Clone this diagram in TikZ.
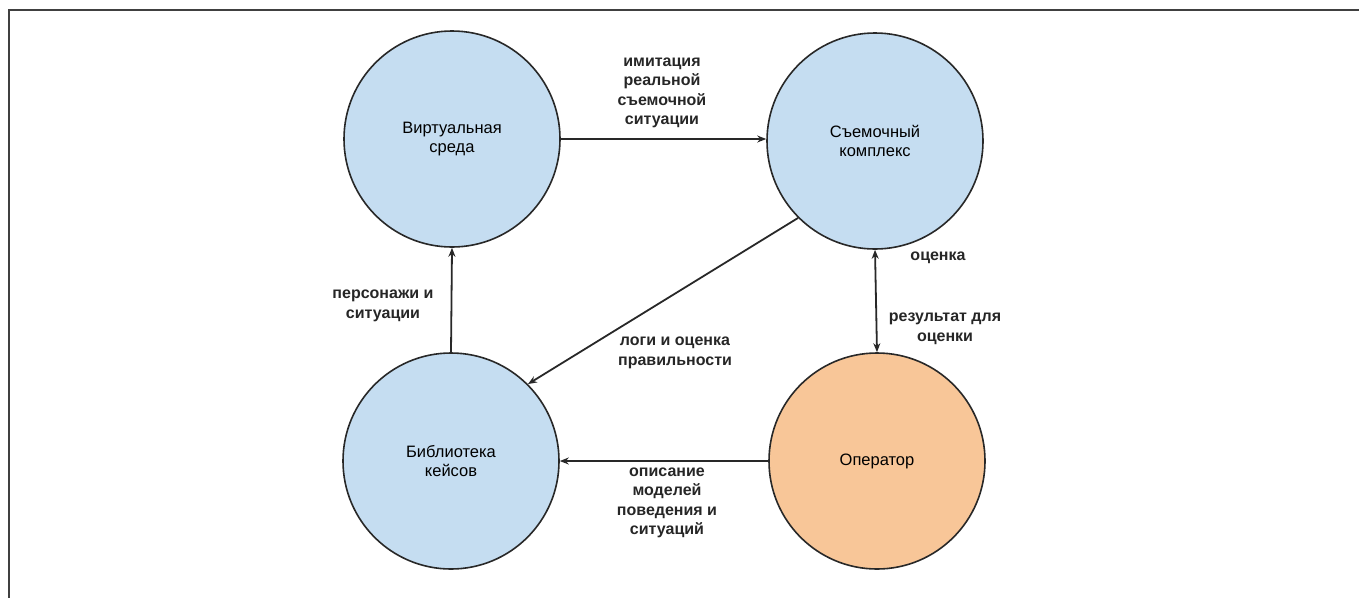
\documentclass[tikz,border=0pt]{standalone}
\usepackage{fontspec}
\setmainfont{Liberation Sans}
\usetikzlibrary{arrows.meta}
\definecolor{cblue}{RGB}{197,221,241}
\definecolor{corange}{RGB}{248,198,152}
\definecolor{cline}{RGB}{40,40,40}
\begin{document}
\begin{tikzpicture}[x=1pt,y=-1pt,
  circ/.style={circle,draw=cline,line width=1.6pt,minimum size=216pt,inner sep=0pt,align=center,
    font=\fontsize{16.5}{18.5}\selectfont},
  lab/.style={align=center,font=\bfseries\fontsize{16}{19.5}\selectfont,text=black!85},
  conn/.style={draw=cline,line width=1.8pt,-{Stealth[length=9pt,width=7pt]}},
  frameline/.style={draw=black!75,line width=1.8pt}]
\useasboundingbox (0,0) rectangle (1359,598);
\coordinate (ftl) at (9,10);
\coordinate (ftr) at (1359,10);
\coordinate (fbl) at (9,598);
\draw[frameline] (ftr) -- (ftl) -- (fbl);

\node[circ,fill=cblue] (virt) at (452,139) {Виртуальная\\среда};
\node[circ,fill=cblue] (sys) at (875,141) {Съемочный\\комплекс};
\node[circ,fill=cblue] (lib) at (451,461) {Библиотека\\кейсов};
\node[circ,fill=corange] (op) at (877,461) {Оператор};

\draw[conn] (virt.east) -- (virt.east -| sys.west);
\draw[conn] (lib.north) -- (virt.south);
\draw[conn] (sys.225) -- (lib.45);
\draw[conn,{Stealth[length=9pt,width=7pt]}-{Stealth[length=9pt,width=7pt]}] (sys.south) -- (op.north);
\draw[conn] (op.west) -- (lib.east);

\node[lab] (l1) at (662,93) {имитация\\реальной\\съемочной\\ситуации};
\node[lab] (l2) at (383,306) {персонажи и\\ситуации};
\node[lab] (l3) at (675,353) {логи и оценка\\правильности};
\node[lab] (l4) at (938,258) {оценка};
\node[lab] (l5) at (945,329) {результат для\\оценки};
\node[lab] (l6) at (667,503) {описание\\моделей\\поведения и\\ситуаций};
\end{tikzpicture}
\end{document}
